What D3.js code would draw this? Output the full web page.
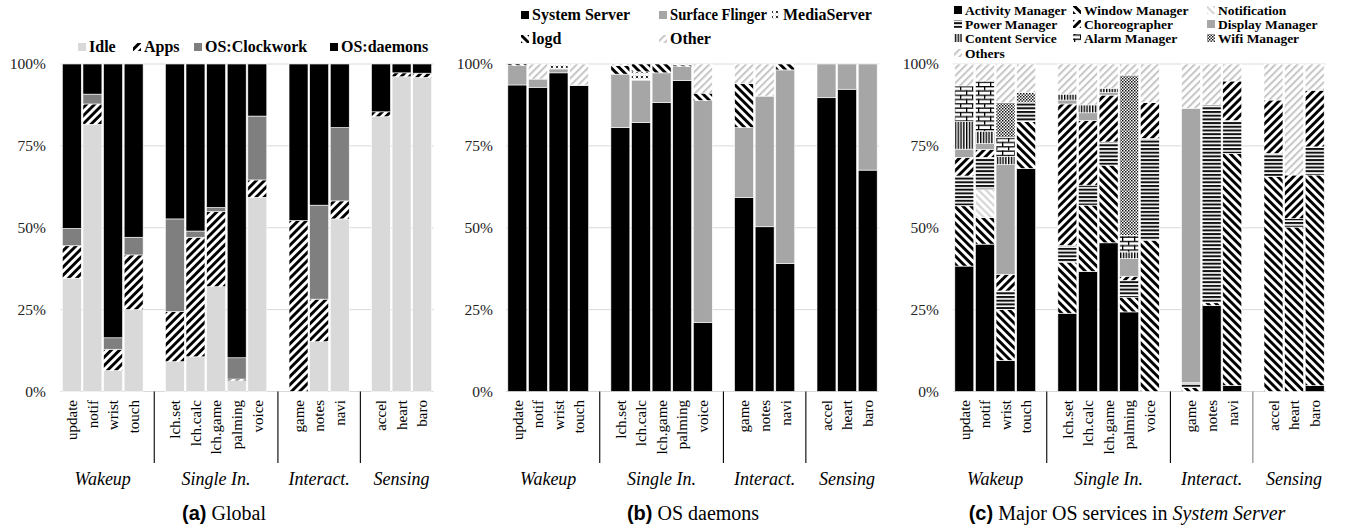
<!DOCTYPE html>
<html>
<head>
<meta charset="utf-8">
<script src="https://cdn.jsdelivr.net/npm/d3@7"></script>
<style>
  body { margin: 0; background: #fff; }
  text { font-family: "Liberation Serif", "Times New Roman", serif; fill: #000; }
</style>
</head>
<body>
<svg id="chart" width="1347" height="531"></svg>
<script>
// ---- shared categories --------------------------------------------------
const categories = ["update", "notif", "wrist", "touch",
  "lch.set", "lch.calc", "lch.game", "palming", "voice",
  "game", "notes", "navi",
  "accel", "heart", "baro"];
const groupNames = ["Wakeup", "Single In.", "Interact.", "Sensing"];
const groupSizes = [4, 5, 3, 3];
const yTicks = [0, 25, 50, 75, 100];

// ---- (a) Global (% of CPU time) ----------------------------------------
const idle      = [34.6, 81.6, 6.4, 25.0, 9.1, 10.6, 32.0, 3.3, 59.3, 0.0, 15.2, 52.7, 83.9, 96.1, 95.9];
const apps      = [9.9, 6.2, 6.5, 16.7, 15.3, 36.5, 22.9, 0.5, 5.3, 52.2, 13.0, 5.5, 1.5, 1.2, 1.3];
const clockwork = [5.3, 3.0, 3.5, 5.4, 28.3, 1.9, 1.3, 6.5, 19.5, 0.0, 28.7, 22.4, 0.0, 0.0, 0.0];
const daemons   = [50.2, 9.2, 83.6, 52.9, 47.3, 51.0, 43.8, 89.7, 15.9, 47.8, 43.1, 19.4, 14.6, 2.7, 2.8];

// ---- (b) OS daemons -----------------------------------------------------
const systemServer   = [93.6, 92.9, 97.3, 93.4, 80.6, 82.1, 88.2, 94.9, 21.1, 59.3, 50.3, 39.1, 89.7, 92.3, 67.6];
const surfaceFlinger = [5.9, 2.5, 1.2, 0.2, 16.3, 13.0, 9.1, 4.3, 67.7, 21.3, 39.9, 59.1, 10.3, 7.7, 32.4];
const mediaServer    = [0, 0, 1.5, 0, 0, 2.5, 0, 0, 0, 0, 0, 0, 0, 0, 0];
const logd           = [0.5, 0, 0, 0, 2.6, 2.4, 2.7, 0.5, 2.3, 13.5, 0, 1.8, 0, 0, 0];
const otherDaemons   = [0, 4.6, 0, 6.4, 0.5, 0, 0, 0.3, 8.9, 5.9, 9.8, 0, 0, 0, 0];

// ---- (c) Major OS services in System Server -----------------------------
const activityMgr   = [38.3, 45.0, 9.5, 68.1, 23.9, 36.7, 45.4, 24.3, 0, 0, 26.3, 1.8, 0, 0, 1.8];
const windowMgr     = [18.4, 8.1, 15.5, 14.3, 15.6, 20.2, 23.7, 4.5, 46.2, 1.2, 0.8, 70.9, 65.7, 50.2, 64.3];
const notification  = [0, 8.6, 0, 0, 0, 0, 0, 0, 0, 0, 0, 0, 0, 0, 0];
const powerMgr      = [9.1, 9.8, 5.7, 5.8, 5.1, 6.1, 7.1, 5.1, 31.1, 1.6, 60.4, 10.0, 7.0, 2.6, 8.6];
const choreographer = [5.7, 2.4, 5.1, 0, 43.2, 19.7, 14.3, 1.3, 10.9, 0, 0, 12.1, 16.3, 13.3, 17.3];
const displayMgr    = [2.5, 1.8, 33.5, 0, 1.2, 2.4, 0.8, 5.4, 0, 83.7, 0, 0, 0, 0, 0];
const contentSvc    = [8.4, 3.8, 2.4, 0, 1.8, 2.4, 1.3, 2.0, 0, 0, 0, 0, 0, 0, 0];
const alarmMgr      = [10.9, 15.3, 5.9, 0, 0, 0, 0, 5.1, 0, 0, 0, 0, 0, 0, 0];
const wifiMgr       = [0, 0, 10.6, 3.1, 0, 0, 0, 48.9, 0, 0, 0, 0, 0, 0, 0];
const otherServices = [6.7, 5.2, 11.8, 8.7, 9.2, 12.5, 7.4, 3.4, 11.8, 13.5, 12.5, 5.2, 11.0, 33.9, 8.0];

// ---- svg + fill patterns -----------------------------------------------
const svg = d3.select("#chart");
const defs = svg.append("defs");

function hatch(id, angle, color, size, thick) {
  const p = defs.append("pattern").attr("id", id)
    .attr("patternUnits", "userSpaceOnUse")
    .attr("width", size).attr("height", size)
    .attr("patternTransform", `rotate(${angle})`);
  p.append("rect").attr("width", size).attr("height", size).attr("fill", "#fff");
  p.append("rect").attr("width", thick).attr("height", size).attr("fill", color);
}
hatch("fwdBlack", 45, "#000", 5.8, 2.9);
hatch("backBlack", -45, "#000", 5.8, 2.9);
hatch("fwdLight", 45, "#c6c6c6", 5.2, 2.0);
hatch("backLight", -45, "#d6d6d6", 5.2, 2.2);

// horizontal lines
(() => {
  const p = defs.append("pattern").attr("id", "horiz").attr("patternUnits", "userSpaceOnUse")
    .attr("width", 8).attr("height", 3.7);
  p.append("rect").attr("width", 8).attr("height", 3.7).attr("fill", "#fff");
  p.append("rect").attr("width", 8).attr("height", 2.0).attr("fill", "#111");
})();
// vertical lines
(() => {
  const p = defs.append("pattern").attr("id", "vert").attr("patternUnits", "userSpaceOnUse")
    .attr("width", 2.8).attr("height", 8);
  p.append("rect").attr("width", 2.8).attr("height", 8).attr("fill", "#fff");
  p.append("rect").attr("width", 1.4).attr("height", 8).attr("fill", "#000");
})();
// brick
(() => {
  const w = 12, h = 8.6;
  const p = defs.append("pattern").attr("id", "brick").attr("patternUnits", "userSpaceOnUse")
    .attr("width", w).attr("height", h);
  p.append("rect").attr("width", w).attr("height", h).attr("fill", "#fff");
  p.append("rect").attr("y", 0).attr("width", w).attr("height", 1.3).attr("fill", "#000");
  p.append("rect").attr("y", h / 2).attr("width", w).attr("height", 1.3).attr("fill", "#000");
  p.append("rect").attr("x", 0).attr("y", 0).attr("width", 1.3).attr("height", h / 2).attr("fill", "#000");
  p.append("rect").attr("x", w / 2).attr("y", h / 2).attr("width", 1.3).attr("height", h / 2).attr("fill", "#000");
})();
// fine checker dots
(() => {
  const p = defs.append("pattern").attr("id", "dots").attr("patternUnits", "userSpaceOnUse")
    .attr("width", 3).attr("height", 3);
  p.append("rect").attr("width", 3).attr("height", 3).attr("fill", "#fff");
  p.append("rect").attr("x", 0).attr("y", 0).attr("width", 1.5).attr("height", 1.5).attr("fill", "#111");
  p.append("rect").attr("x", 1.5).attr("y", 1.5).attr("width", 1.5).attr("height", 1.5).attr("fill", "#333");
})();
// small crosses
(() => {
  const p = defs.append("pattern").attr("id", "cross").attr("patternUnits", "userSpaceOnUse")
    .attr("width", 5).attr("height", 5);
  p.append("rect").attr("width", 5).attr("height", 5).attr("fill", "#fff");
  p.append("path").attr("d", "M0.8,0.8 L3.2,3.2 M3.2,0.8 L0.8,3.2")
    .attr("stroke", "#000").attr("stroke-width", 0.8).attr("fill", "none");
})();

// ---- slots: categories with an empty slot between groups ----------------
const slots = [];
const gapKeys = [];
let ci = 0;
groupSizes.forEach((n, g) => {
  for (let k = 0; k < n; k++) slots.push(categories[ci++]);
  if (g < groupSizes.length - 1) { const key = "__gap" + g; slots.push(key); gapKeys.push(key); }
});

const y = d3.scaleLinear().domain([0, 100]).range([391.5, 64]);

function drawPanel(cfg) {
  const g = svg.append("g");
  const x = d3.scaleBand().domain(slots).range(cfg.range).paddingInner(0.08).paddingOuter(0.04);

  // gridlines
  g.append("g").selectAll("line").data(yTicks).join("line")
    .attr("x1", cfg.range[0] - 1).attr("x2", cfg.range[1] + 1)
    .attr("y1", d => y(d)).attr("y2", d => y(d))
    .attr("stroke", "#d9d9d9").attr("stroke-width", 1);

  // y tick labels
  g.append("g").selectAll("text").data(yTicks).join("text")
    .attr("x", cfg.tickX).attr("y", d => y(d)).attr("dy", "0.35em")
    .attr("text-anchor", "end").style("font-size", "15.5px").style("fill", "#222")
    .text(d => d + "%");

  // stacked bars
  const rows = categories.map((c, i) => {
    const r = { cat: c };
    cfg.series.forEach(s => { r[s.key] = s.values[i]; });
    return r;
  });
  const stacked = d3.stack().keys(cfg.series.map(s => s.key))(rows);
  const fillOf = Object.fromEntries(cfg.series.map(s => [s.key, s.fill]));
  g.append("g").selectAll("g").data(stacked).join("g")
    .attr("fill", d => fillOf[d.key])
    .selectAll("rect").data(d => d.filter(p => p[1] - p[0] > 0)).join("rect")
    .attr("x", d => x(d.data.cat))
    .attr("width", x.bandwidth())
    .attr("y", d => y(d[1]))
    .attr("height", d => y(d[0]) - y(d[1]))
    .attr("stroke", "#fff").attr("stroke-width", 0.6);

  // category labels
  g.append("g").selectAll("text").data(categories).join("text")
    .attr("transform", d => `translate(${x(d) + x.bandwidth() / 2},400) rotate(-90)`)
    .attr("dy", "0.35em").attr("text-anchor", "end")
    .style("font-size", "15px").text(d => d);

  // group separators
  g.append("g").selectAll("line").data(gapKeys).join("line")
    .attr("x1", d => x(d) + x.bandwidth() / 2).attr("x2", d => x(d) + x.bandwidth() / 2)
    .attr("y1", 391.5).attr("y2", 463)
    .attr("stroke", (d, i) => (cfg.lastSepGray && i === gapKeys.length - 1) ? "#808080" : "#000")
    .attr("stroke-width", 1.1);

  // group labels
  let start = 0;
  const groupCenters = groupSizes.map(n => {
    const first = categories[start], last = categories[start + n - 1];
    start += n;
    return (x(first) + x(last) + x.bandwidth()) / 2;
  });
  g.append("g").selectAll("text").data(groupNames).join("text")
    .attr("x", (d, i) => groupCenters[i]).attr("y", 485)
    .attr("text-anchor", "middle").style("font-style", "italic").style("font-size", "18px")
    .text(d => d);

  // legend
  const lg = g.append("g");
  cfg.series.forEach((s, i) => {
    const pos = cfg.legendPos(i);
    lg.append("rect").attr("x", pos.x).attr("y", pos.y - cfg.iconSize / 2)
      .attr("width", cfg.iconSize).attr("height", cfg.iconSize).attr("fill", s.fill);
    const t = lg.append("text").attr("x", pos.x + cfg.iconSize + 3).attr("y", pos.y).attr("dy", "0.34em")
      .style("font-weight", "bold").style("font-size", cfg.legendFont + "px").text(s.name);
    // keep a label clear of the next legend column
    if (pos.room) {
      const w = t.node().getComputedTextLength();
      if (w > pos.room) t.attr("textLength", pos.room).attr("lengthAdjust", "spacingAndGlyphs");
    }
  });

  // caption
  const cap = g.append("text").attr("x", cfg.captionX).attr("y", 520)
    .attr("text-anchor", "middle").style("font-size", "20px");
  cap.append("tspan").style("font-family", "'Liberation Sans', Arial, sans-serif")
    .style("font-weight", "bold").text(cfg.capTag);
  cfg.capParts.forEach(p => cap.append("tspan").style("font-style", p.italic ? "italic" : "normal").text(p.t));
}

function columnPos(cols, rowsY, i, iconSize) {
  const c = i % cols.length;
  const room = c < cols.length - 1 ? cols[c + 1] - cols[c] - iconSize - 3 - 5 : null;
  return { x: cols[c], y: rowsY[Math.floor(i / cols.length)], room };
}

drawPanel({
  range: [61.5, 432.5], tickX: 46, captionX: 224,
  capTag: "(a)", capParts: [{ t: " Global" }],
  iconSize: 8, legendFont: 16,
  legendPos: i => ({ x: [78, 133, 194, 330][i], y: 47 }),
  series: [
    { key: "idle", name: "Idle", values: idle, fill: "#d9d9d9" },
    { key: "apps", name: "Apps", values: apps, fill: "url(#fwdBlack)" },
    { key: "clock", name: "OS:Clockwork", values: clockwork, fill: "#7f7f7f" },
    { key: "daemons", name: "OS:daemons", values: daemons, fill: "#000" }
  ]
});

drawPanel({
  range: [507, 878], tickX: 493, captionX: 693,
  capTag: "(b)", capParts: [{ t: " OS daemons" }],
  iconSize: 8, legendFont: 16,
  legendPos: i => columnPos([521, 659, 772], [15, 39], i, 8),
  series: [
    { key: "ss", name: "System Server", values: systemServer, fill: "#000" },
    { key: "sf", name: "Surface Flinger", values: surfaceFlinger, fill: "#a6a6a6" },
    { key: "ms", name: "MediaServer", values: mediaServer, fill: "url(#cross)" },
    { key: "logd", name: "logd", values: logd, fill: "url(#backBlack)" },
    { key: "other", name: "Other", values: otherDaemons, fill: "url(#fwdLight)" }
  ]
});

drawPanel({
  range: [954, 1325], tickX: 939, captionX: 1127, lastSepGray: true,
  capTag: "(c)", capParts: [{ t: " Major OS services in " }, { t: "System Server", italic: true }],
  iconSize: 8, legendFont: 13.5,
  legendPos: i => columnPos([954, 1073, 1207], [10, 24, 38, 53], i, 8),
  series: [
    { key: "am", name: "Activity Manager", values: activityMgr, fill: "#000" },
    { key: "wm", name: "Window Manager", values: windowMgr, fill: "url(#backBlack)" },
    { key: "nt", name: "Notification", values: notification, fill: "url(#backLight)" },
    { key: "pm", name: "Power Manager", values: powerMgr, fill: "url(#horiz)" },
    { key: "ch", name: "Choreographer", values: choreographer, fill: "url(#fwdBlack)" },
    { key: "dm", name: "Display Manager", values: displayMgr, fill: "#a6a6a6" },
    { key: "cs", name: "Content Service", values: contentSvc, fill: "url(#vert)" },
    { key: "al", name: "Alarm Manager", values: alarmMgr, fill: "url(#brick)" },
    { key: "wf", name: "Wifi Manager", values: wifiMgr, fill: "url(#dots)" },
    { key: "ot", name: "Others", values: otherServices, fill: "url(#fwdLight)" }
  ]
});
</script>
</body>
</html>
